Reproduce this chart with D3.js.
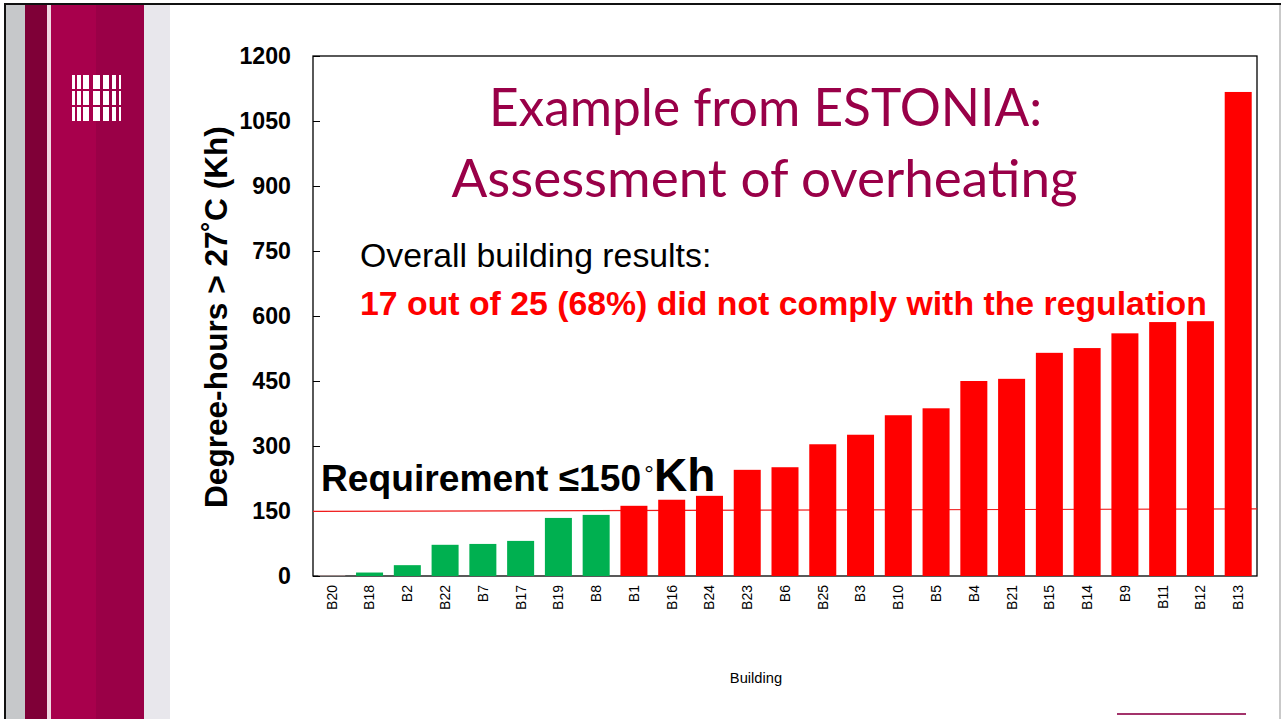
<!DOCTYPE html>
<html><head><meta charset="utf-8">
<script src="https://cdn.jsdelivr.net/npm/d3@7"></script>
<style>html,body{margin:0;padding:0;background:#fff;overflow:hidden}svg{display:block}</style>
</head><body><svg id="c" width="1281" height="719"></svg>
<script>
const buildings=["B20","B18","B2","B22","B7","B17","B19","B8","B1","B16","B24","B23","B6","B25","B3","B10","B5","B4","B21","B15","B14","B9","B11","B12","B13"];
const degreeHours=[1,8,25,72,74,81,134,141,162,176,185,245,251,304,326,371,387,450,455,515,526,560,586,588,1117];
const compliantCount=8;
const yTicks=[0,150,300,450,600,750,900,1050,1200];
const thresholdEnds=[149,155];

const svg=d3.select("#c");
const bands=[[25,47,"#7f0037"],[51,96,"#a8004c"],[96,144,"#9a0047"]];
svg.append("rect").attr("x",6).attr("y",5).attr("width",19).attr("height",714).attr("fill","#c6c8ca");
svg.append("rect").attr("x",47).attr("y",5).attr("width",4).attr("height",714).attr("fill","#f0d8e2");
svg.append("rect").attr("x",144).attr("y",5).attr("width",26).attr("height",714).attr("fill","#e8e7ec");
bands.forEach(b=>svg.append("rect").attr("x",b[0]).attr("y",4).attr("width",b[1]-b[0]).attr("height",715).attr("fill",b[2]));
svg.append("rect").attr("x",4).attr("y",4).attr("width",2).attr("height",715).attr("fill","#111");
svg.append("rect").attr("x",4).attr("y",3).attr("width",1277).attr("height",2).attr("fill","#111");
svg.append("rect").attr("x",1279).attr("y",5).attr("width",2).attr("height",714).attr("fill","#c9c9c9");
svg.append("rect").attr("x",1117).attr("y",713).attr("width",129).attr("height",2).attr("fill","#a3336b");
const logoCols=[[72,3],[77,4],[83,6],[93,7],[103,6],[112,4],[119,2]];
const logoRows=[[75,14],[91,14],[107,14]];
logoRows.forEach(r=>logoCols.forEach(c=>svg.append("rect").attr("x",c[0]).attr("y",r[0]).attr("width",c[1]).attr("height",r[1]).attr("fill","#fff")));

const x=d3.scaleBand().domain(buildings).range([313,1257]).paddingInner(0.285).paddingOuter(0.14);
const y=d3.scaleLinear().domain([0,1200]).range([576,56]);
const xLine=d3.scaleLinear().domain([0,1]).range([313,1257]);

const gx=svg.append("g").attr("transform","translate(0,576)").call(d3.axisBottom(x).tickSize(0).tickPadding(0));
gx.select(".domain").remove();
gx.selectAll("text").attr("transform","rotate(-90)").attr("x",-9).attr("y",0).attr("dy","0.35em")
  .style("text-anchor","end").style("font","14px 'Liberation Sans'").attr("fill","#000");

const gy=svg.append("g").attr("transform","translate(313,0)").call(d3.axisLeft(y).tickValues(yTicks).tickSize(0).tickPadding(22).tickFormat(d3.format("d")));
gy.select(".domain").remove();
gy.selectAll("text").style("font","bold 23.2px 'Liberation Sans'").attr("fill","#000");
gy.selectAll("line").attr("x2",7).attr("stroke","#000");

svg.append("rect").attr("x",313).attr("y",56).attr("width",944).attr("height",520).attr("fill","none").attr("stroke","#000").attr("stroke-width",1.3);

svg.append("line").attr("x1",xLine(0)).attr("x2",xLine(1)).attr("y1",y(thresholdEnds[0])).attr("y2",y(thresholdEnds[1])).attr("stroke","#f01a1a").attr("stroke-width",1.2);

svg.selectAll(".bar").data(buildings).join("rect").attr("class","bar")
  .attr("x",d=>x(d)).attr("width",x.bandwidth())
  .attr("y",(d,i)=>y(degreeHours[i])).attr("height",(d,i)=>y(0)-y(degreeHours[i]))
  .attr("fill",(d,i)=>i===0?"#f3c9c9":i<compliantCount?"#00b050":"#ff0000");

const txt=(s,xp,yp,font,fill,anchor)=>svg.append("text").attr("x",xp).attr("y",yp).style("font",font).attr("fill",fill).attr("text-anchor",anchor||"start").text(s);
txt("Example from ESTONIA:",765.5,126,"51.4px Lato","#990048","middle");
txt("Assessment of overheating",764.5,197,"53px Lato","#990048","middle");
txt("Overall building results:",360,267,"33.8px 'Liberation Sans'","#000");
txt("17 out of 25 (68%) did not comply with the regulation",360,315,"bold 33.8px 'Liberation Sans'","#ff0000");
txt("Requirement ≤150",321,491,"bold 37.2px 'Liberation Sans'","#000");
txt("°",644.3,482,"24px 'Liberation Sans'","#000");
txt("Kh",654,491,"bold 46px 'Liberation Sans'","#000");
txt("Building",756,683,"14.7px 'Liberation Sans'","#000","middle");
svg.append("text").attr("transform","translate(227,508) rotate(-90)").style("font","bold 31.6px 'Liberation Sans'").attr("fill","#000").text("Degree-hours > 27˚C (Kh)");
</script></body></html>
